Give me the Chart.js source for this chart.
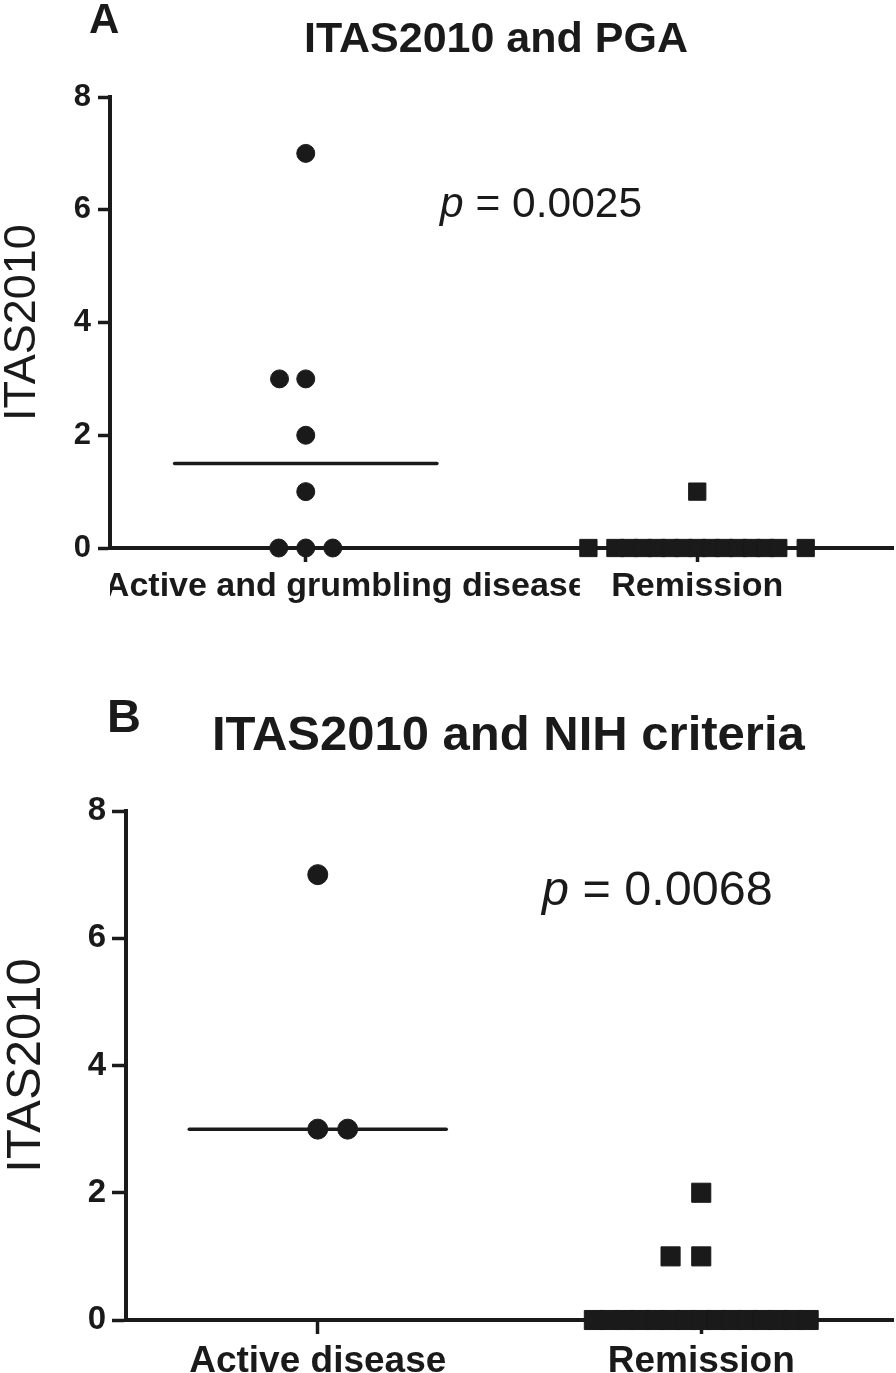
<!DOCTYPE html>
<html>
<head>
<meta charset="utf-8">
<title>ITAS2010</title>
<script src="https://cdn.jsdelivr.net/npm/chart.js@4.4.0/dist/chart.umd.min.js"></script>
<style>
    html, body { margin: 0; padding: 0; background: #fff; }
    body { width: 896px; height: 1373px; position: relative; overflow: hidden;
           font-family: 'Liberation Sans', Arial, sans-serif; color: #1a1a1a; }
    canvas { position: absolute; left: 0; }
    #chartA { top: 0; }
    #chartB { top: 640px; }
    .txt { position: absolute; white-space: nowrap; line-height: 1; }
    .bold { font-weight: bold; }
</style>
</head>
<body>
<canvas id="chartA" width="896" height="620"></canvas>
<canvas id="chartB" width="896" height="733"></canvas>

<div class="txt bold" style="left:89px; top:-2.5px; font-size:42px;">A</div>
<div class="txt bold" style="left:304px; top:15.5px; font-size:43px;">ITAS2010 and PGA</div>
<div class="txt" style="left:440px; top:182px; font-size:42.5px;"><i>p</i> = 0.0025</div>

<div class="txt bold" style="left:107px; top:692px; font-size:47px;">B</div>
<div class="txt bold" style="left:212px; top:708.5px; font-size:49px;">ITAS2010 and NIH criteria</div>
<div class="txt" style="left:542px; top:864px; font-size:48.5px;"><i>p</i> = 0.0068</div>

<script>
// Colours and fonts
const ink = '#1a1a1a';
const family = "'Liberation Sans', Arial, sans-serif";

// Panel A: ITAS2010 vs physician global assessment
const pgaGroups = ['Active and grumbling disease', 'Remission'];
const pgaActiveY = [7, 3, 3, 2, 1, 0, 0, 0];
const pgaActiveJitter = [0, -0.067, 0, 0, 0, -0.069, 0, 0.069];
const pgaRemissionY = [1, 0, 0, 0, 0, 0, 0, 0, 0, 0, 0, 0, 0, 0, 0, 0];
const pgaRemissionJitter = [0, -0.278, -0.209, -0.174, -0.139, -0.104, -0.069, -0.035, 0,
    0.035, 0.069, 0.104, 0.139, 0.174, 0.207, 0.277];
const pgaMedians = [1.5, 0];

// Panel B: ITAS2010 vs NIH criteria
const nihGroups = ['Active disease', 'Remission'];
const nihActiveY = [7, 3, 3];
const nihActiveJitter = [0, 0, 0.078];
const nihRemissionY = [2, 1, 1, 0, 0, 0, 0, 0, 0, 0, 0, 0, 0, 0, 0, 0, 0, 0];
const nihRemissionJitter = [0, -0.08, 0, -0.28, -0.24, -0.2, -0.16, -0.12, -0.08, -0.04, 0,
    0.04, 0.08, 0.12, 0.16, 0.2, 0.24, 0.28];
const nihMedians = [3, 0];

// Shared axis values
const yTicks = [0, 2, 4, 6, 8];
const medianHalfWidth = 0.335;

// Turn a column of values into scatter points around its category
function columnPoints(category, values, jitter) {
    return values.map((y, i) => ({ x: category + jitter[i], y: y }));
}

// Draw the category names under the x axis
const categoryLabels = {
    id: 'categoryLabels',
    afterDraw(chart, args, opts) {
        const ctx = chart.ctx;
        const xScale = chart.scales.x;
        const area = chart.chartArea;
        ctx.save();
        ctx.font = `bold ${opts.size}px ${family}`;
        ctx.fillStyle = ink;
        ctx.textAlign = 'center';
        ctx.textBaseline = 'alphabetic';
        opts.labels.forEach((text, i) => {
            ctx.save();
            const clip = opts.clip && opts.clip[i];
            if (clip) {
                const x1 = xScale.getPixelForValue(clip[0]);
                const x2 = xScale.getPixelForValue(clip[1]);
                ctx.beginPath();
                ctx.rect(x1, 0, x2 - x1, chart.height);
                ctx.clip();
            }
            const shift = (opts.shift && opts.shift[i]) || 0;
            ctx.fillText(text, xScale.getPixelForValue(i) + shift, area.bottom + opts.baseline);
            ctx.restore();
        });
        ctx.restore();
    }
};

function makePanel(canvasId, p) {
    const ctx = document.getElementById(canvasId).getContext('2d');
    const pointStyle = {
        backgroundColor: ink,
        borderColor: ink,
        pointBorderWidth: 1,
        showLine: false,
        clip: false
    };
    const medianSets = p.medians.map((m, i) => ({
        data: [{ x: i - medianHalfWidth, y: m }, { x: i + medianHalfWidth, y: m }],
        showLine: true,
        borderColor: ink,
        borderWidth: p.medianWidth,
        pointRadius: 0,
        borderCapStyle: 'round',
        clip: false
    }));

    return new Chart(ctx, {
        type: 'scatter',
        data: {
            datasets: [
                Object.assign({
                    data: columnPoints(0, p.activeY, p.activeJitter),
                    pointStyle: 'circle',
                    pointRadius: p.circleRadius
                }, pointStyle),
                Object.assign({
                    data: columnPoints(1, p.remissionY, p.remissionJitter),
                    pointStyle: 'rect',
                    pointRadius: p.squareRadius
                }, pointStyle),
                ...medianSets
            ]
        },
        options: {
            responsive: false,
            animation: false,
            events: [],
            layout: {
                autoPadding: false,
                padding: { left: 0, top: p.top, right: 3, bottom: 0 }
            },
            plugins: {
                legend: { display: false },
                tooltip: { enabled: false },
                categoryLabels: {
                    labels: p.groups,
                    size: p.labelSize,
                    baseline: p.labelBaseline,
                    shift: p.labelShift,
                    clip: p.labelClip
                }
            },
            scales: {
                x: {
                    type: 'linear',
                    min: -0.5,
                    max: 1.5,
                    afterBuildTicks: scale => {
                        scale.ticks = p.groups.map((g, i) => ({ value: i }));
                    },
                    afterFit: scale => { scale.height = p.xHeight; },
                    ticks: { display: false },
                    grid: {
                        drawOnChartArea: false,
                        drawTicks: true,
                        tickLength: 14,
                        tickColor: ink,
                        tickWidth: 3.5,
                        color: ink
                    },
                    border: { display: true, color: ink, width: 4 }
                },
                y: {
                    min: 0,
                    max: 8,
                    afterBuildTicks: scale => {
                        scale.ticks = yTicks.map(v => ({ value: v }));
                    },
                    afterFit: scale => { scale.width = p.yWidth; },
                    ticks: {
                        color: ink,
                        padding: p.tickPadding,
                        font: { family: family, size: p.tickSize, weight: 'bold' }
                    },
                    grid: {
                        drawOnChartArea: false,
                        drawTicks: true,
                        tickLength: p.tickLength,
                        tickColor: ink,
                        tickWidth: 3.5,
                        color: ink
                    },
                    border: { display: true, color: ink, width: 4 },
                    title: {
                        display: true,
                        text: 'ITAS2010',
                        color: ink,
                        padding: { top: p.titlePad, bottom: 0 },
                        font: { family: family, size: p.titleSize, weight: 'normal', lineHeight: 1 }
                    }
                }
            }
        },
        plugins: [categoryLabels]
    });
}

// Panel A
makePanel('chartA', {
    groups: pgaGroups,
    activeY: pgaActiveY,
    activeJitter: pgaActiveJitter,
    remissionY: pgaRemissionY,
    remissionJitter: pgaRemissionJitter,
    medians: pgaMedians,
    top: 97,
    xHeight: 72,
    yWidth: 110,
    circleRadius: 9,
    squareRadius: 12.2,
    medianWidth: 3.5,
    tickSize: 31,
    tickLength: 12,
    tickPadding: 7,
    titleSize: 45,
    titlePad: 0,
    labelSize: 34,
    labelBaseline: 48,
    labelShift: [40, 0],
    labelClip: [[-0.5, 0.7], null]
});

// Panel B
makePanel('chartB', {
    groups: nihGroups,
    activeY: nihActiveY,
    activeJitter: nihActiveJitter,
    remissionY: nihRemissionY,
    remissionJitter: nihRemissionJitter,
    medians: nihMedians,
    top: 171,
    xHeight: 53,
    yWidth: 126,
    circleRadius: 10,
    squareRadius: 13.5,
    medianWidth: 3.5,
    tickSize: 33,
    tickLength: 14,
    tickPadding: 6,
    titleSize: 49,
    titlePad: 2,
    labelSize: 37,
    labelBaseline: 52,
    labelShift: [0, 0],
    labelClip: null
});
</script>
</body>
</html>
